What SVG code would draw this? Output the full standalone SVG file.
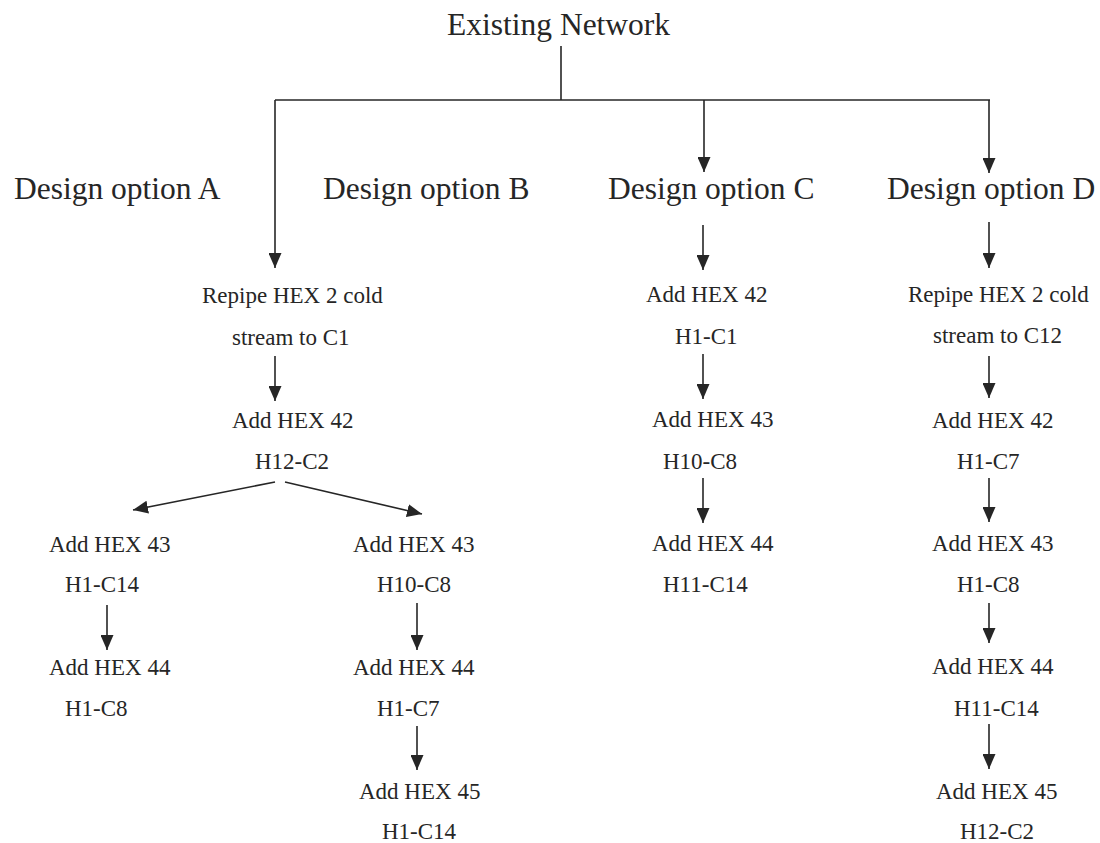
<svg xmlns="http://www.w3.org/2000/svg" width="1100" height="843" viewBox="0 0 1100 843">
<defs>
<marker id="ah" viewBox="0 0 15 13" refX="15" refY="6.5" markerWidth="15" markerHeight="13" markerUnits="userSpaceOnUse" orient="auto">
<path d="M0,0 L15,6.5 L0,13 Z" fill="#262626"/>
</marker>
<style>
.big{font-family:"Liberation Serif","Times New Roman",serif;font-size:31.5px;fill:#262626}
.sm{font-family:"Liberation Serif","Times New Roman",serif;font-size:23px;fill:#262626}
.ln{stroke:#262626;stroke-width:1.6;fill:none}
.ar{stroke:#262626;stroke-width:1.6;fill:none;marker-end:url(#ah)}
</style>
</defs>
<rect width="1100" height="843" fill="#fff"/>
<g id="connectors">
<line class="ln" x1="561" y1="46" x2="561" y2="100"/>
<line class="ln" x1="275" y1="100" x2="990" y2="100"/>
<line class="ar" x1="275" y1="100" x2="275" y2="268"/>
<line class="ar" x1="704" y1="100" x2="704" y2="172"/>
<line class="ar" x1="989" y1="100" x2="989" y2="173"/>
<line class="ar" x1="275" y1="356" x2="275" y2="401"/>
<line class="ar" x1="275" y1="482" x2="133" y2="510"/>
<line class="ar" x1="285" y1="482" x2="422" y2="514"/>
<line class="ar" x1="107" y1="605" x2="107" y2="650"/>
<line class="ar" x1="417" y1="603" x2="417" y2="650"/>
<line class="ar" x1="417" y1="726" x2="417" y2="770"/>
<line class="ar" x1="703" y1="225" x2="703" y2="270"/>
<line class="ar" x1="703" y1="354" x2="703" y2="399"/>
<line class="ar" x1="703" y1="478" x2="703" y2="523"/>
<line class="ar" x1="989" y1="222" x2="989" y2="268"/>
<line class="ar" x1="989" y1="356" x2="989" y2="398"/>
<line class="ar" x1="989" y1="478" x2="989" y2="522"/>
<line class="ar" x1="989" y1="603" x2="989" y2="643"/>
<line class="ar" x1="989" y1="724" x2="989" y2="769"/>
</g>
<g id="root"><text class="big" x="447" y="35">Existing Network</text></g>
<g id="optA"><text class="big" x="14" y="199">Design option A</text></g>
<g id="optB"><text class="big" x="323" y="199">Design option B</text></g>
<g id="optC"><text class="big" x="608" y="199">Design option C</text></g>
<g id="optD"><text class="big" x="887" y="199">Design option D</text></g>
<g id="ab1"><text class="sm" x="202" y="303">Repipe HEX 2 cold</text><text class="sm" x="232" y="345">stream to C1</text></g>
<g id="ab2"><text class="sm" x="232" y="428">Add HEX 42</text><text class="sm" x="255" y="469">H12-C2</text></g>
<g id="a3"><text class="sm" x="49" y="552">Add HEX 43</text><text class="sm" x="65" y="592">H1-C14</text></g>
<g id="a4"><text class="sm" x="49" y="675">Add HEX 44</text><text class="sm" x="65" y="716">H1-C8</text></g>
<g id="b3"><text class="sm" x="353" y="552">Add HEX 43</text><text class="sm" x="377" y="592">H10-C8</text></g>
<g id="b4"><text class="sm" x="353" y="675">Add HEX 44</text><text class="sm" x="377" y="716">H1-C7</text></g>
<g id="b5"><text class="sm" x="359" y="799">Add HEX 45</text><text class="sm" x="382" y="839">H1-C14</text></g>
<g id="c2"><text class="sm" x="646" y="302">Add HEX 42</text><text class="sm" x="675" y="344">H1-C1</text></g>
<g id="c3"><text class="sm" x="652" y="427">Add HEX 43</text><text class="sm" x="663" y="469">H10-C8</text></g>
<g id="c4"><text class="sm" x="652" y="551">Add HEX 44</text><text class="sm" x="663" y="592">H11-C14</text></g>
<g id="d1"><text class="sm" x="908" y="302">Repipe HEX 2 cold</text><text class="sm" x="933" y="343">stream to C12</text></g>
<g id="d2"><text class="sm" x="932" y="428">Add HEX 42</text><text class="sm" x="957" y="469">H1-C7</text></g>
<g id="d3"><text class="sm" x="932" y="551">Add HEX 43</text><text class="sm" x="957" y="592">H1-C8</text></g>
<g id="d4"><text class="sm" x="932" y="674">Add HEX 44</text><text class="sm" x="954" y="716">H11-C14</text></g>
<g id="d5"><text class="sm" x="936" y="799">Add HEX 45</text><text class="sm" x="960" y="839">H12-C2</text></g>
</svg>
